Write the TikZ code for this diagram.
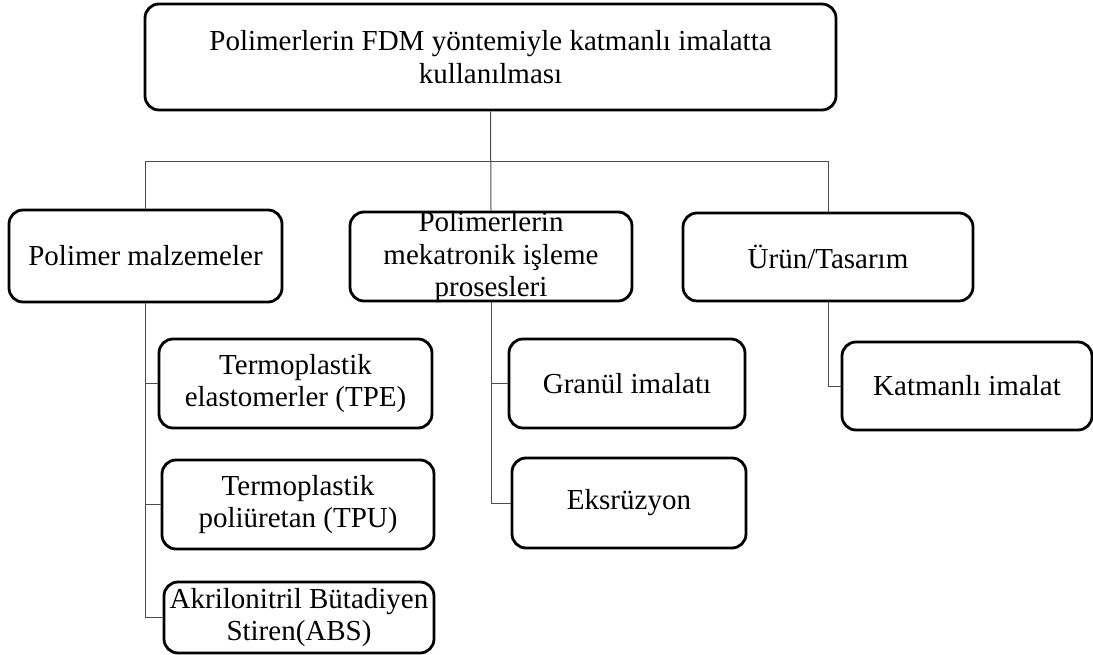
\documentclass[tikz,border=0pt]{standalone}
\usepackage{fontspec}
\setmainfont{Liberation Serif}
\newcommand\boxfont{\fontsize{29}{32.5}\selectfont}
\tikzset{
  box/.style={draw, line width=2.8pt, rounded corners=14pt, fill=white,
    inner sep=0pt, align=center, font=\boxfont},
  boxtext/.style={inner sep=0pt, align=center, font=\boxfont},
  conn/.style={draw=black!70, line width=1pt},
}
\begin{document}
\begin{tikzpicture}[x=1pt,y=-1pt]
\useasboundingbox (0,0) rectangle (1093,655);
% connectors first (boxes are filled white on top)
\coordinate (bus) at (490,162);
% nodes (centres and sizes in pixels of the reference)
\node[box, minimum width=691pt, minimum height=106pt] (top) at (490.5,57)
  {Polimerlerin FDM yöntemiyle katmanlı imalatta\\kullanılması};
\node[box, minimum width=273pt, minimum height=92pt] (pm) at (145.5,256)
  {Polimer malzemeler};
\node[box, minimum width=282pt, minimum height=89pt] (mid) at (491,256.5) {};
\node[boxtext] (midt) at ([yshift=-1pt]mid.center) {Polimerlerin\\mekatronik işleme\\prosesleri};
\node[box, minimum width=290pt, minimum height=88pt] (ur) at (828,257)
  {Ürün/Tasarım};
\node[box, minimum width=273pt, minimum height=89pt] (tpe) at (295.5,383.5)
  {Termoplastik\\elastomerler (TPE)};
\node[box, minimum width=272pt, minimum height=89pt] (tpu) at (298,504.5)
  {Termoplastik\\poliüretan (TPU)};
\node[box, minimum width=270pt, minimum height=71pt] (abs) at (299,617.5)
  {Akrilonitril Bütadiyen\\Stiren(ABS)};
\node[box, minimum width=236pt, minimum height=89pt] (gra) at (627,383.5)
  {Granül imalatı};
\node[box, minimum width=234pt, minimum height=90pt] (eks) at (629,503)
  {Eksrüzyon};
\node[box, minimum width=250pt, minimum height=88pt] (kat) at (967,386)
  {Katmanlı imalat};
% connectors
\draw[conn] (top.south) -- (mid.north);
\draw[conn] (pm.north) -- (pm.north |- bus) -- (ur.north |- bus) -- (ur.north);
\draw[conn] (pm.south) |- (abs.west);
\draw[conn] (pm.south |- tpe.west) -- (tpe.west);
\draw[conn] (pm.south |- tpu.west) -- (tpu.west);
\draw[conn] (mid.south) |- (eks.west);
\draw[conn] (mid.south |- gra.west) -- (gra.west);
\draw[conn] (ur.south) |- (kat.west);
\end{tikzpicture}
\end{document}
